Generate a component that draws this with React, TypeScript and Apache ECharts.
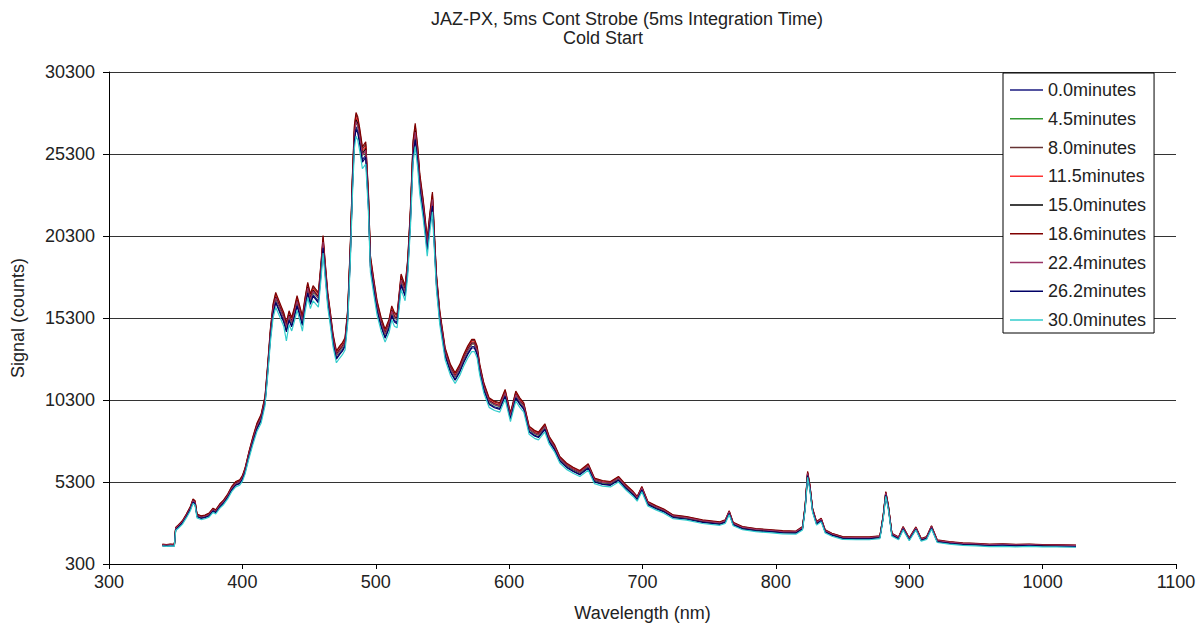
import React, { useEffect, useRef } from "react";
import * as echarts from "echarts";

const TITLE_LINE1 = "JAZ-PX, 5ms Cont Strobe (5ms Integration Time)";
const TITLE_LINE2 = "Cold Start";
const X_NAME = "Wavelength (nm)";
const Y_NAME = "Signal (counts)";

const SERIES_NAMES = [
  "0.0minutes", "4.5minutes", "8.0minutes", "11.5minutes", "15.0minutes",
  "18.6minutes", "22.4minutes", "26.2minutes", "30.0minutes",
];
const SERIES_COLORS = [
  "#1a1a80", "#339933", "#663333", "#ff3333", "#000000",
  "#800000", "#993366", "#000066", "#33cccc",
];

const WAVELENGTH = [
  340,343,346,349,350,352,355,358,361,363,
  364.5,366,369,372,375,378,380,383,386,389,
  392,395,398,400,402,405,408,411,414,417,
  419,421,423,425,427,429,431,433,435,437,
  439,441,443,445,447,449,451,453,455,457,
  459,460.5,462,464,466,468,470.5,473,475,477,
  479,481,482.5,484,485.2,486.5,488,490,492.5,494.5,
  496,498.5,501,504,507,510,512,514,516,519,
  522,524,526,528,529.6,531.5,533,535.5,537,538.6,
  540.5,542.5,544,545.5,548,552,556,559.5,563,566,
  569,572,574,576,578,581,585,589,593,597,
  601,605,608,611,615,619,622,626.8,630,634,
  638,643,648,653,659.3,664,670,676,682,687,
  693,696,699.5,704,710,716,723,733,745,758,
  762,765,768,775,785,795,805,815,820,822,
  823.8,825.5,827.5,830.5,834,837,842,850,860,870,
  878,880.5,882.4,884.3,887,892,895.4,900,905,909,
  913,916.7,921,930,940,950,960,970,980,990,
  1000,1010,1025,
];

const S_0_0 = [
  1430,1410,1440,1420,2420,2560,2810,3210,3650,4100,
  4000,3210,3110,3160,3260,3550,3450,3800,4050,4400,
  4840,5140,5240,5480,5930,6920,7810,8600,9100,10190,
  12070,14150,15630,16330,15930,15530,15140,14540,15240,14840,
  15430,16130,15530,14940,16030,16920,16230,16720,16520,16330,
  18110,19690,18200,16330,15140,13850,12860,13160,13360,13650,
  15330,19290,23250,26220,26960,26720,26030,24940,25240,22260,
  18500,17120,15830,14840,14150,14740,15530,15140,15040,17410,
  16720,18300,21270,25330,26320,24940,23350,21870,20780,19490,
  20980,22260,19790,17410,15240,13060,12070,11570,12070,12660,
  13160,13550,13550,13160,12070,10980,10090,9890,9790,10580,
  9200,10480,10090,9790,8400,8160,8060,8550,7810,7320,
  6620,6230,5980,5780,6180,5340,5190,5140,5440,4990,
  4540,4250,4840,3950,3700,3510,3160,3060,2860,2740,
  2860,3410,2710,2470,2350,2290,2220,2200,2470,3750,
  5730,4940,3550,2760,2960,2270,2070,1870,1850,1850,
  1920,3160,4540,3750,2070,1850,2470,1790,2450,1750,
  1870,2520,1670,1570,1500,1470,1420,1440,1410,1430,
  1400,1390,1370,
];

const S_4_5 = [
  1450,1430,1460,1440,2450,2600,2850,3250,3700,4150,
  4050,3250,3150,3200,3300,3600,3500,3850,4100,4450,
  4900,5200,5300,5550,6000,7000,7900,8700,9200,10300,
  12200,14300,15800,16500,16100,15700,15300,14700,15400,15000,
  15600,16300,15700,15100,16200,17100,16400,16900,16700,16500,
  18300,19900,18400,16500,15300,14000,13000,13300,13500,13800,
  15500,19500,23500,26500,27250,27000,26300,25200,25500,22500,
  18700,17300,16000,15000,14300,14900,15700,15300,15200,17600,
  16900,18500,21500,25600,26600,25200,23600,22100,21000,19700,
  21200,22500,20000,17600,15400,13200,12200,11700,12200,12800,
  13300,13700,13700,13300,12200,11100,10200,10000,9900,10700,
  9300,10600,10200,9900,8500,8250,8150,8650,7900,7400,
  6700,6300,6050,5850,6250,5400,5250,5200,5500,5050,
  4600,4300,4900,4000,3750,3550,3200,3100,2900,2780,
  2900,3450,2750,2500,2380,2320,2250,2230,2500,3800,
  5800,5000,3600,2800,3000,2300,2100,1900,1880,1880,
  1950,3200,4600,3800,2100,1880,2500,1820,2480,1780,
  1900,2550,1700,1600,1530,1500,1450,1470,1440,1460,
  1430,1420,1400,
];

const S_8_0 = [
  1490,1470,1500,1480,2510,2660,2910,3320,3780,4230,
  4130,3320,3220,3270,3370,3670,3570,3930,4180,4540,
  4990,5300,5400,5650,6110,7130,8040,8850,9360,10470,
  12400,14530,16060,16770,16360,15950,15550,14940,15650,15250,
  15850,16560,15950,15350,16460,17380,16670,17170,16970,16770,
  18600,20220,18700,16770,15550,14230,13220,13520,13720,14030,
  15750,19810,23870,26920,27690,27430,26710,25600,25900,22860,
  19000,17580,16260,15250,14530,15140,15950,15550,15450,17880,
  17170,18800,21840,26000,27030,25600,23970,22450,21340,20020,
  21540,22860,20320,17880,15650,13420,12400,11900,12400,13010,
  13520,13920,13920,13520,12400,11290,10370,10170,10070,10880,
  9460,10780,10370,10070,8650,8390,8290,8790,8040,7530,
  6820,6410,6160,5960,6360,5500,5350,5300,5600,5140,
  4690,4380,4990,4080,3830,3620,3270,3170,2960,2840,
  2960,3520,2810,2560,2440,2370,2300,2280,2560,3880,
  5910,5100,3670,2860,3070,2350,2150,1950,1930,1930,
  2000,3270,4690,3880,2150,1930,2560,1870,2540,1830,
  1950,2610,1750,1640,1570,1540,1490,1510,1480,1500,
  1470,1460,1440,
];

const S_11_5 = [
  1470,1450,1480,1460,2480,2640,2890,3290,3750,4200,
  4100,3290,3190,3240,3340,3650,3550,3900,4150,4500,
  4960,5260,5360,5620,6070,7080,7990,8800,9300,10410,
  12330,14450,15970,16670,16270,15870,15460,14860,15560,15160,
  15770,16470,15870,15260,16370,17280,16570,17080,16880,16670,
  18490,20110,18590,16670,15460,14150,13140,13440,13650,13950,
  15670,19710,23750,26780,27540,27280,26570,25460,25770,22740,
  18900,17480,16170,15160,14450,15060,15870,15460,15360,17790,
  17080,18700,21730,25870,26880,25460,23850,22330,21220,19910,
  21420,22740,20210,17790,15560,13340,12330,11830,12330,12940,
  13440,13850,13850,13440,12330,11220,10310,10110,10010,10820,
  9400,10720,10310,10010,8600,8340,8240,8740,7990,7480,
  6780,6370,6120,5920,6320,5460,5310,5260,5560,5110,
  4660,4350,4960,4050,3800,3600,3240,3140,2940,2820,
  2940,3490,2790,2540,2410,2350,2280,2260,2540,3850,
  5870,5060,3650,2840,3040,2330,2130,1930,1910,1910,
  1980,3240,4660,3850,2130,1910,2540,1850,2520,1810,
  1930,2580,1730,1630,1560,1530,1470,1490,1460,1480,
  1450,1440,1420,
];

const S_15_0 = [
  1460,1440,1470,1450,2460,2610,2860,3270,3720,4170,
  4070,3270,3170,3220,3320,3620,3520,3870,4120,4470,
  4920,5230,5330,5580,6030,7040,7940,8740,9250,10350,
  12260,14370,15880,16580,16180,15780,15380,14770,15480,15080,
  15680,16380,15780,15180,16280,17190,16480,16980,16780,16580,
  18390,20000,18490,16580,15380,14070,13070,13370,13570,13870,
  15580,19600,23620,26630,27390,27140,26430,25330,25630,22610,
  18790,17390,16080,15080,14370,14970,15780,15380,15280,17690,
  16980,18590,21610,25730,26740,25330,23720,22210,21110,19800,
  21310,22610,20100,17690,15480,13270,12260,11760,12260,12860,
  13370,13770,13770,13370,12260,11160,10250,10050,9950,10750,
  9350,10650,10250,9950,8540,8290,8190,8690,7940,7440,
  6730,6330,6080,5880,6280,5430,5280,5230,5530,5080,
  4620,4320,4920,4020,3770,3570,3220,3120,2910,2790,
  2910,3470,2760,2510,2390,2330,2260,2240,2510,3820,
  5830,5030,3620,2810,3020,2310,2110,1910,1890,1890,
  1960,3220,4620,3820,2110,1890,2510,1830,2490,1790,
  1910,2560,1710,1610,1540,1510,1460,1480,1450,1470,
  1440,1430,1410,
];

const S_18_6 = [
  1510,1490,1520,1500,2530,2680,2940,3350,3800,4260,
  4160,3350,3240,3290,3400,3700,3600,3960,4210,4570,
  5030,5330,5440,5690,6150,7170,8090,8900,9410,10540,
  12470,14620,16150,16860,16450,16040,15640,15020,15740,15330,
  15940,16660,16040,15430,16550,17470,16760,17270,17060,16860,
  18700,20330,18800,16860,15640,14310,13290,13600,13800,14110,
  15840,19920,24000,27070,27830,27570,26860,25730,26040,22980,
  19100,17680,16350,15330,14620,15230,16040,15640,15530,17980,
  17270,18900,21960,26140,27170,25730,24100,22570,21450,20120,
  21650,22980,20430,17980,15740,13490,12470,11960,12470,13090,
  13600,14000,14000,13600,12470,11350,10430,10230,10130,10940,
  9520,10840,10430,10130,8700,8450,8340,8850,8090,7580,
  6860,6460,6200,6000,6410,5540,5390,5330,5640,5180,
  4720,4420,5030,4110,3860,3650,3290,3190,2990,2870,
  2990,3550,2840,2580,2460,2400,2330,2310,2580,3910,
  5950,5130,3700,2890,3090,2380,2170,1970,1950,1950,
  2020,3300,4720,3910,2170,1950,2580,1890,2560,1850,
  1970,2630,1770,1660,1590,1560,1510,1530,1500,1520,
  1490,1480,1460,
];

const S_22_4 = [
  1470,1450,1470,1460,2470,2620,2870,3260,3710,4160,
  4060,3260,3160,3210,3310,3610,3510,3860,4110,4460,
  4910,5210,5310,5560,6010,7010,7910,8710,9210,10310,
  12220,14320,15820,16530,16130,15730,15330,14730,15430,15030,
  15630,16330,15730,15130,16230,17130,16430,16930,16730,16530,
  18330,19930,18430,16530,15330,14030,13030,13330,13530,13830,
  15530,19530,23530,26530,27280,27030,26330,25230,25530,22530,
  18730,17330,16030,15030,14330,14930,15730,15330,15230,17630,
  16930,18530,21530,25630,26630,25230,23630,22130,21030,19730,
  21230,22530,20030,17630,15430,13230,12230,11730,12230,12830,
  13330,13730,13730,13330,12230,11130,10230,10030,9930,10730,
  9330,10630,10230,9930,8530,8280,8180,8680,7930,7430,
  6730,6330,6080,5880,6280,5430,5280,5230,5530,5080,
  4630,4330,4930,4030,3780,3580,3230,3130,2930,2810,
  2930,3480,2780,2530,2410,2350,2280,2260,2530,3830,
  5830,5030,3630,2830,3030,2330,2130,1930,1910,1910,
  1980,3230,4630,3830,2130,1910,2530,1850,2510,1810,
  1930,2580,1730,1630,1560,1530,1480,1500,1470,1490,
  1460,1450,1430,
];

const S_26_2 = [
  1410,1390,1420,1400,2390,2540,2790,3180,3630,4070,
  3970,3180,3080,3130,3230,3530,3430,3770,4020,4360,
  4810,5100,5200,5450,5890,6880,7760,8550,9040,10130,
  12000,14070,15540,16230,15840,15440,15050,14460,15150,14760,
  15350,16040,15440,14850,15940,16820,16130,16630,16430,16230,
  18010,19580,18100,16230,15050,13770,12790,13080,13280,13570,
  15250,19190,23130,26080,26810,26580,25890,24800,25100,22140,
  18400,17020,15740,14760,14070,14660,15440,15050,14950,17320,
  16630,18200,21160,25200,26180,24800,23230,21750,20670,19380,
  20860,22140,19680,17320,15150,12980,12000,11500,12000,12590,
  13080,13470,13470,13080,12000,10910,10030,9830,9730,10520,
  9140,10420,10030,9730,8350,8110,8010,8500,7760,7270,
  6580,6190,5940,5740,6140,5300,5150,5100,5400,4950,
  4510,4220,4810,3920,3670,3480,3130,3030,2840,2720,
  2840,3380,2690,2440,2320,2270,2200,2180,2440,3720,
  5690,4910,3530,2740,2940,2250,2050,1850,1830,1830,
  1900,3130,4510,3720,2050,1830,2440,1770,2420,1730,
  1850,2490,1650,1560,1490,1460,1410,1430,1400,1420,
  1390,1380,1360,
];

const S_30_0 = [
  1400,1380,1410,1390,2340,2480,2720,3110,3550,3990,
  3890,3110,3010,3060,3160,3450,3350,3690,3930,4270,
  4710,5000,5100,5340,5780,6750,7620,8400,8880,9950,
  11800,13830,15290,15960,15570,15190,14800,13900,14900,14510,
  15090,15770,15190,14500,15670,16550,15870,16350,16160,15960,
  17710,19260,17810,15960,14800,13540,12570,12860,13060,13350,
  15000,18880,22760,25650,26380,26150,25470,24400,24690,21780,
  18100,16740,15480,14510,13830,14410,15190,14800,14700,17030,
  16350,17900,20820,24790,25750,24400,22850,21400,20330,19070,
  20520,21780,19360,17030,14900,12770,11800,11310,11800,12380,
  12860,13250,13250,12860,11800,10730,9850,9660,9560,10340,
  8980,10240,9850,9560,8210,7960,7870,8350,7620,7140,
  6460,6070,5830,5640,6020,5200,5050,5000,5300,4860,
  4420,4130,4710,3840,3600,3400,3060,2970,2770,2660,
  2770,3310,2630,2390,2270,2210,2140,2120,2380,3650,
  5590,4810,3450,2670,2870,2190,1990,1800,1780,1780,
  1850,3060,4420,3650,1990,1780,2380,1720,2370,1690,
  1800,2430,1610,1510,1440,1410,1360,1380,1350,1370,
  1350,1340,1320,
];

const SERIES_VALUES = [S_0_0, S_4_5, S_8_0, S_11_5, S_15_0, S_18_6, S_22_4, S_26_2, S_30_0];

const FONT = "'Liberation Sans', Arial, sans-serif";
const TEXT_COLOR = "#222";

export default function App() {
  const ref = useRef<HTMLDivElement>(null);

  useEffect(() => {
    if (!ref.current) return;
    const chart = echarts.init(ref.current, undefined, { renderer: "svg" });

    const series = SERIES_NAMES.map((name, i) => ({
      name,
      type: "line" as const,
      symbol: "none",
      data: WAVELENGTH.map((w, j) => [w, SERIES_VALUES[i][j]]),
      lineStyle: { color: SERIES_COLORS[i], width: 1.2 },
      itemStyle: { color: SERIES_COLORS[i] },
      emphasis: { disabled: true },
    }));

    chart.setOption({
      animation: false,
      backgroundColor: "#ffffff",
      textStyle: { fontFamily: FONT },
      title: [
        {
          text: TITLE_LINE1,
          left: 622,
          top: 5,
          textAlign: "center",
          textStyle: { fontFamily: FONT, fontSize: 18, fontWeight: "normal", color: TEXT_COLOR },
        },
        {
          text: TITLE_LINE2,
          left: 598,
          top: 24,
          textAlign: "center",
          textStyle: { fontFamily: FONT, fontSize: 18, fontWeight: "normal", color: TEXT_COLOR },
        },
      ],
      legend: {
        orient: "vertical",
        left: 1003,
        top: 73,
        padding: [7, 8, 3, 7],
        icon: "rect",
        itemWidth: 33,
        itemHeight: 1.5,
        itemGap: 8.75,
        backgroundColor: "#ffffff",
        borderColor: "#000000",
        borderWidth: 1,
        borderRadius: 0,
        selectedMode: false,
        textStyle: { fontFamily: FONT, fontSize: 18, color: TEXT_COLOR, lineHeight: 20, height: 20 },
        data: SERIES_NAMES,
      },
      grid: { left: 109, right: 24, top: 72, bottom: 70, containLabel: false },
      xAxis: {
        type: "value",
        min: 300,
        max: 1100,
        interval: 100,
        name: X_NAME,
        nameLocation: "middle",
        nameGap: 40,
        nameTextStyle: { fontFamily: FONT, fontSize: 18, color: TEXT_COLOR },
        axisLine: { show: true, lineStyle: { color: "#000", width: 1 } },
        axisTick: { show: true, length: 5, lineStyle: { color: "#000" } },
        axisLabel: {
          fontFamily: FONT, fontSize: 18, color: TEXT_COLOR, margin: 9,
          formatter: (v: number) => String(v),
        },
        splitLine: { show: false },
      },
      yAxis: {
        type: "value",
        min: 300,
        max: 30300,
        interval: 5000,
        name: Y_NAME,
        nameLocation: "middle",
        nameGap: 82,
        nameTextStyle: { fontFamily: FONT, fontSize: 18, color: TEXT_COLOR },
        axisLine: { show: true, lineStyle: { color: "#000", width: 1 } },
        axisTick: { show: true, length: 6, lineStyle: { color: "#000" } },
        axisLabel: {
          fontFamily: FONT, fontSize: 18, color: TEXT_COLOR, margin: 14,
          formatter: (v: number) => String(v),
        },
        splitLine: { show: true, lineStyle: { color: "#333", width: 1 } },
      },
      series,
    });

    return () => chart.dispose();
  }, []);

  return (
    <div
      ref={ref}
      style={{ position: "fixed", left: 0, top: 0, width: 1200, height: 634, background: "#fff" }}
    />
  );
}
